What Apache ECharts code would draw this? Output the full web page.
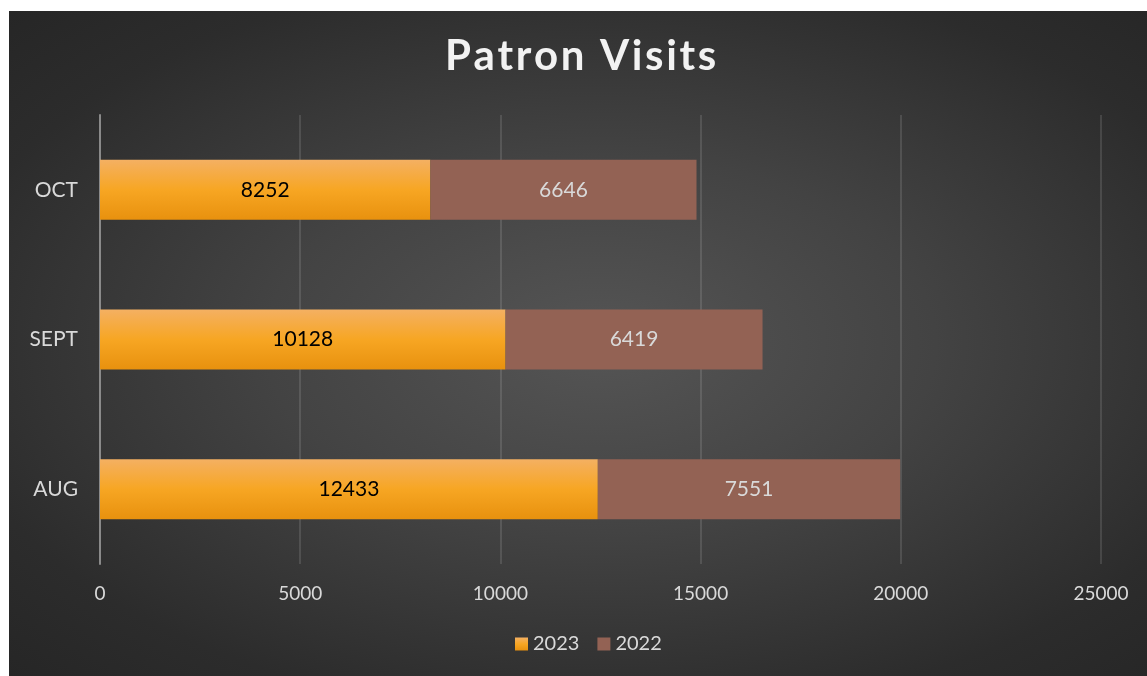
<!DOCTYPE html>
<html>
<head>
<meta charset="utf-8">
<script src="https://cdn.jsdelivr.net/npm/echarts@6/dist/echarts.min.js"></script>
<style>
  html, body { margin: 0; padding: 0; background: #ffffff; }
  #chart {
    position: absolute;
    left: 9px; top: 11px;
    width: 1138px; height: 665px;
    background: radial-gradient(ellipse at 52% 50%, #555555 0%, #434343 40%, #2c2c2c 80%, #262626 100%);
  }
</style>
</head>
<body>
<div id="chart"></div>
<script>
// chart data
const months = ['AUG', 'SEPT', 'OCT'];
const visits2023 = [12433, 10128, 8252];
const visits2022 = [7551, 6419, 6646];
const xTicks = [0, 5000, 10000, 15000, 20000, 25000];

const titleText = 'Patron Visits';

const myChart = echarts.init(document.getElementById('chart'));
myChart.setOption({
  animation: false,
  backgroundColor: 'transparent',
  textStyle: { fontFamily: 'Lato' },
  title: {
    // 字间距：用细空格撑开
    text: titleText.split('').join('\u200A'),
    left: 431,
    top: 19,
    textStyle: { color: '#f2f2f2', fontSize: 42, fontWeight: 'bold', fontFamily: 'Lato' }
  },
  legend: {
    bottom: 17,
    left: 501,
    itemWidth: 13,
    itemHeight: 13,
    itemGap: 18,
    icon: 'rect',
    textStyle: { color: '#d9d9d9', fontSize: 20 },
    data: ['2023', '2022']
  },
  grid: { // 跟原图对齐
    left: 91,
    right: 46,
    top: 104,
    bottom: 112
  },
  xAxis: {
    type: 'value',
    min: xTicks[0],
    max: xTicks[xTicks.length - 1],
    interval: xTicks[1] - xTicks[0],
    axisLine: { show: false },
    axisTick: { show: false },
    axisLabel: { color: '#d9d9d9', fontSize: 19, margin: 20, formatter: v => String(v) },
    splitLine: { lineStyle: { color: 'rgba(255,255,255,0.16)', width: 1.5 } }
  },
  yAxis: {
    type: 'category',
    data: months,
    axisLine: { show: true, lineStyle: { color: '#8a8a8a', width: 2 } },
    axisTick: { show: false },
    axisLabel: { color: '#d9d9d9', fontSize: 21, margin: 22 }
  },
  series: [
    {
      name: '2023',
      type: 'bar',
      stack: 'Total',
      barWidth: 60,
      data: visits2023,
      itemStyle: {
        color: {
          type: 'linear', x: 0, y: 0, x2: 0, y2: 1,
          colorStops: [
            { offset: 0, color: '#f4b062' },
            { offset: 0.5, color: '#f7a623' },
            { offset: 1, color: '#e8910e' }
          ]
        }
      },
      label: { show: true, position: 'inside', color: '#000000', fontSize: 21 }
    },
    {
      name: '2022',
      type: 'bar',
      stack: 'Total',
      barWidth: 60,
      data: visits2022,
      itemStyle: { color: '#936254' },
      label: { show: true, position: 'inside', color: '#d9d9d9', fontSize: 21 }
    }
  ]
});
</script>
</body>
</html>
